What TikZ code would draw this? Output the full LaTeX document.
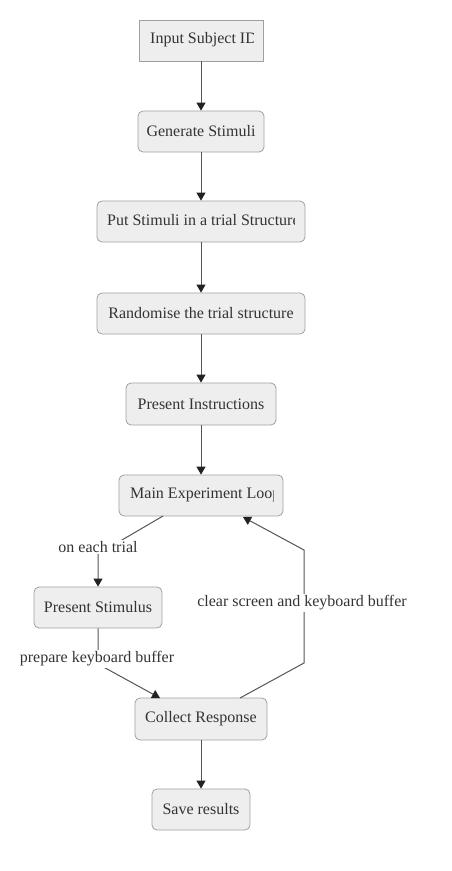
\documentclass[tikz,border=0pt]{standalone}
\usepackage{fontspec}
\setmainfont{Liberation Serif}
\usetikzlibrary{arrows.meta}
\definecolor{boxfill}{HTML}{EEEEEE}
\definecolor{boxline}{HTML}{A0A0A0}
\definecolor{txt}{HTML}{333333}
\definecolor{edge}{HTML}{555555}
\definecolor{tip}{HTML}{222222}
\tikzset{
  box/.style={draw=boxline, fill=boxfill, rounded corners=5pt, line width=0.8pt,
    minimum height=41pt, inner sep=0pt, text=txt, font=\fontsize{16}{18}\selectfont},
  sqbox/.style={box, rounded corners=0pt},
  cliptext/.style={anchor=west, inner sep=0pt, text=txt, font=\fontsize{16}{18}\selectfont},
  lbl/.style={fill=white, inner sep=1.5pt, text=txt, font=\fontsize{16}{18}\selectfont},
  flow/.style={draw=edge, line width=1pt, -{Triangle[length=8pt,width=9pt,color=tip]}},
}
\begin{document}
\begin{tikzpicture}[x=1pt,y=-1pt]
\useasboundingbox (0,0) rectangle (451,871);
% boxes
\node[sqbox, minimum width=124pt] (in) at (201,40.5) {};
\begin{scope}\clip (150,20) rectangle (253,61);
\node[cliptext] (intext) at (150,39.5) {Input Subject ID};
\end{scope}
\node[box, minimum width=126pt] (gen) at (201,131.5) {Generate Stimuli};
\node[box, minimum width=208pt] (put) at (201,221.5) {};
\begin{scope}\clip (107,201) rectangle (294,242);
\node[cliptext] (puttext) at (107,220.5) {Put Stimuli in a trial Structure};
\end{scope}
\node[box, minimum width=208pt] (rand) at (201,313.5) {Randomise the trial structure};
\node[box, minimum width=150pt, minimum height=42pt] (instr) at (201,404) {Present Instructions};
\node[box, minimum width=164pt] (loop) at (201,495.5) {};
\begin{scope}\clip (130,475) rectangle (273,516);
\node[cliptext] (looptext) at (130,494.5) {Main Experiment Loop};
\end{scope}
\node[box, minimum width=128pt] (stim) at (98,607.5) {Present Stimulus};
\node[box, minimum width=132pt, minimum height=42pt] (coll) at (201,719) {Collect Response};
\node[box, minimum width=98pt] (save) at (201,809.5) {Save results};
% straight connectors
\draw[flow] (in) -- (gen);
\draw[flow] (gen) -- (put);
\draw[flow] (put) -- (rand);
\draw[flow] (rand) -- (instr);
\draw[flow] (instr) -- (loop);
\draw[flow] (coll) -- (save);
% bend coordinates
\coordinate (a0) at (163,516);
\coordinate (a1) at (98,554);
\coordinate (b1) at (98,664);
\coordinate (b2) at (160,698);
\coordinate (c0) at (240,698);
\coordinate (c1) at (304,663);
\coordinate (c2) at (304,550);
\coordinate (c3) at (243,517);
\draw[flow] (a0) -- (a1) -- (stim.north);
\draw[flow] (stim.south) -- (b1) -- (b2);
\draw[flow] (c0) -- (c1) -- (c2) -- (c3);
% labels
\node[lbl] (l1) at (98,547) {on each trial};
\node[lbl] (l2) at (97,659) {prepare keyboard buffer};
\node[lbl] (l3) at (302,603) {clear screen and keyboard buffer};
\end{tikzpicture}
\end{document}
